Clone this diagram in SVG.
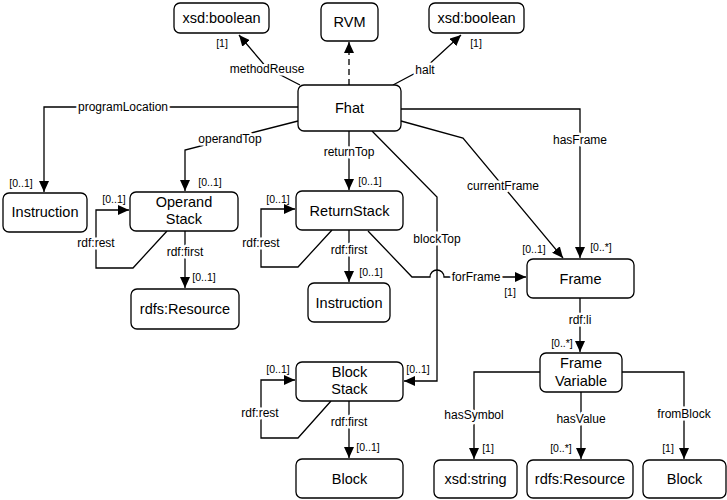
<svg xmlns="http://www.w3.org/2000/svg" width="727" height="500" viewBox="0 0 727 500">
<style>
.n rect{fill:#fff;stroke:#000;stroke-width:1.3}
.n text{font-family:"Liberation Sans",Arial,sans-serif;font-size:14.5px;text-anchor:middle;fill:#000}
.c path{fill:none;stroke:#000;stroke-width:1.3}
.el{font-family:"Liberation Sans",Arial,sans-serif;font-size:12px;text-anchor:middle;fill:#000;stroke:#fff;stroke-width:5;paint-order:stroke;stroke-linejoin:round}
.cd{font-family:"Liberation Sans",Arial,sans-serif;font-size:10.5px;text-anchor:middle;fill:#000}
</style>
<defs>
<marker id="a" markerUnits="userSpaceOnUse" markerWidth="12" markerHeight="10" refX="11" refY="5" orient="auto">
<path d="M0,0 L11,5 L0,10 z" fill="#000"/>
</marker>
</defs>
<rect width="727" height="500" fill="#fff"/>
<g class="c" id="connectors">
<path d="M300,85 L267,68 L239,35" marker-end="url(#a)"/>
<path d="M349,85 V42" stroke-dasharray="6,4" marker-end="url(#a)"/>
<path d="M393,85 L425,68 L461,35" marker-end="url(#a)"/>
<path d="M298,107 H44 V192" marker-end="url(#a)"/>
<path d="M298,121 L185,150 V191" marker-end="url(#a)"/>
<path d="M349,131 V190" marker-end="url(#a)"/>
<path d="M401,109 H580 V258" marker-end="url(#a)"/>
<path d="M401,121 L463,138 L563,258" marker-end="url(#a)"/>
<path d="M372,131 L437,197 V381 H404" marker-end="url(#a)"/>
<path d="M368,231 L412,277 H430 A7,7 0 0 1 444,277 H526" marker-end="url(#a)"/>
<path d="M167,231 L133,268 H96 V210 H129" marker-end="url(#a)"/>
<path d="M332,230 L298,267 H261 V209 H295" marker-end="url(#a)"/>
<path d="M331,401 L298,438 H261 V380 H295" marker-end="url(#a)"/>
<path d="M185,231 V288" marker-end="url(#a)"/>
<path d="M349,230 V282" marker-end="url(#a)"/>
<path d="M349,401 V458" marker-end="url(#a)"/>
<path d="M580,298 V352" marker-end="url(#a)"/>
<path d="M540,372 H474 V459" marker-end="url(#a)"/>
<path d="M581,392 V459" marker-end="url(#a)"/>
<path d="M622,372 H684 V459" marker-end="url(#a)"/>
<text class="el" x="267" y="73">methodReuse</text>
<text class="el" x="425" y="74">halt</text>
<text class="el" x="123" y="111">programLocation</text>
<text class="el" x="230" y="143">operandTop</text>
<text class="el" x="349" y="156">returnTop</text>
<text class="el" x="580" y="144">hasFrame</text>
<text class="el" x="503" y="190">currentFrame</text>
<text class="el" x="437" y="243">blockTop</text>
<text class="el" x="476" y="281">forFrame</text>
<text class="el" x="96" y="247">rdf:rest</text>
<text class="el" x="261" y="247">rdf:rest</text>
<text class="el" x="260" y="417">rdf:rest</text>
<text class="el" x="185" y="256">rdf:first</text>
<text class="el" x="349" y="254">rdf:first</text>
<text class="el" x="349" y="426">rdf:first</text>
<text class="el" x="580" y="324">rdf:li</text>
<text class="el" x="474" y="419">hasSymbol</text>
<text class="el" x="581" y="423">hasValue</text>
<text class="el" x="684" y="418">fromBlock</text>
<text class="cd" x="222" y="47">[1]</text>
<text class="cd" x="476" y="47">[1]</text>
<text class="cd" x="21" y="187">[0..1]</text>
<text class="cd" x="210" y="186">[0..1]</text>
<text class="cd" x="370" y="185">[0..1]</text>
<text class="cd" x="114" y="203">[0..1]</text>
<text class="cd" x="278" y="203">[0..1]</text>
<text class="cd" x="204" y="281">[0..1]</text>
<text class="cd" x="371" y="276">[0..1]</text>
<text class="cd" x="534" y="253">[0..1]</text>
<text class="cd" x="601" y="251">[0..*]</text>
<text class="cd" x="510" y="296">[1]</text>
<text class="cd" x="562" y="347">[0..*]</text>
<text class="cd" x="278" y="373">[0..1]</text>
<text class="cd" x="418" y="373">[0..1]</text>
<text class="cd" x="368" y="451">[0..1]</text>
<text class="cd" x="488" y="452">[1]</text>
<text class="cd" x="561" y="452">[0..*]</text>
<text class="cd" x="668" y="452">[1]</text>
</g>
<g class="n" id="xsdBoolean1"><rect x="174" y="3" width="95" height="30" rx="6"/><text x="221.5" y="23">xsd:boolean</text></g>
<g class="n" id="RVM"><rect x="321" y="3" width="57" height="38" rx="6"/><text x="349.5" y="27">RVM</text></g>
<g class="n" id="xsdBoolean2"><rect x="429" y="3" width="95" height="30" rx="6"/><text x="476.5" y="23">xsd:boolean</text></g>
<g class="n" id="Fhat"><rect x="298" y="85" width="103" height="46" rx="6"/><text x="349.5" y="113">Fhat</text></g>
<g class="n" id="Instruction1"><rect x="3" y="193" width="84" height="39" rx="6"/><text x="45" y="217">Instruction</text></g>
<g class="n" id="OperandStack"><rect x="130" y="192" width="108" height="39" rx="6"/><text x="184" y="207">Operand</text><text x="184" y="224">Stack</text></g>
<g class="n" id="rdfsResource1"><rect x="131" y="289" width="108" height="40" rx="6"/><text x="185" y="314">rdfs:Resource</text></g>
<g class="n" id="ReturnStack"><rect x="296" y="191" width="107" height="39" rx="6"/><text x="349.5" y="215.5">ReturnStack</text></g>
<g class="n" id="Instruction2"><rect x="308" y="283" width="82" height="39" rx="6"/><text x="349" y="307.5">Instruction</text></g>
<g class="n" id="Frame"><rect x="527" y="259" width="107" height="39" rx="6"/><text x="580.5" y="283.5">Frame</text></g>
<g class="n" id="BlockStack"><rect x="296" y="362" width="107" height="39" rx="6"/><text x="349.5" y="377">Block</text><text x="349.5" y="394">Stack</text></g>
<g class="n" id="Block1"><rect x="296" y="459" width="107" height="39" rx="6"/><text x="349.5" y="483.5">Block</text></g>
<g class="n" id="FrameVariable"><rect x="540" y="353" width="82" height="39" rx="6"/><text x="581" y="368">Frame</text><text x="581" y="386">Variable</text></g>
<g class="n" id="xsdString"><rect x="434" y="460" width="83" height="38" rx="6"/><text x="475.5" y="484">xsd:string</text></g>
<g class="n" id="rdfsResource2"><rect x="527" y="460" width="106" height="38" rx="6"/><text x="580" y="484">rdfs:Resource</text></g>
<g class="n" id="Block2"><rect x="643" y="460" width="83" height="38" rx="6"/><text x="684.5" y="484">Block</text></g>
</svg>
